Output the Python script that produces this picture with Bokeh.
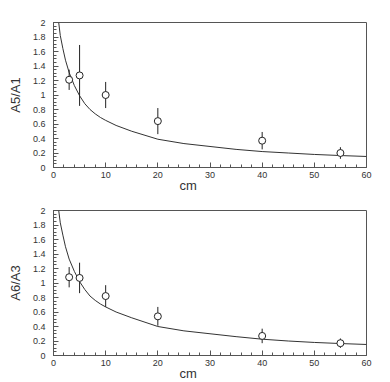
from bokeh.plotting import figure
from bokeh.models import Range1d, FixedTicker, Title, ColumnDataSource
from bokeh.layouts import column
from bokeh.embed import file_html
from bokeh.resources import INLINE

# ---- data ----
x_points = [3, 5, 10, 20, 40, 55]

a5a1 = [1.21, 1.27, 1.00, 0.64, 0.37, 0.20]
a5a1_err = [0.14, 0.42, 0.18, 0.18, 0.12, 0.08]

a6a3 = [1.08, 1.07, 0.82, 0.54, 0.27, 0.17]
a6a3_err = [0.14, 0.21, 0.15, 0.13, 0.10, 0.065]

fit_x = [1.0, 1.3, 1.8, 2.3, 3, 4, 5, 6, 7, 8, 9, 10, 12, 15, 20, 25, 30, 35, 40, 45, 50, 55, 60]
fit_top = [2.0, 1.82, 1.64, 1.48, 1.31, 1.13, 0.99, 0.88, 0.80, 0.74, 0.69, 0.65, 0.58, 0.50,
           0.39, 0.33, 0.29, 0.25, 0.22, 0.20, 0.18, 0.165, 0.152]
fit_bottom = [2.0, 1.83, 1.66, 1.50, 1.33, 1.16, 1.02, 0.91, 0.82, 0.76, 0.71, 0.67, 0.60, 0.52,
              0.40, 0.34, 0.30, 0.26, 0.225, 0.20, 0.18, 0.165, 0.152]

x_ticks = [0, 10, 20, 30, 40, 50, 60]
x_minor = [2, 4, 6, 8, 12, 14, 16, 18, 22, 24, 26, 28, 32, 34, 36, 38, 42, 44, 46, 48, 52, 54, 56, 58]
y_ticks = [0, 0.2, 0.4, 0.6, 0.8, 1, 1.2, 1.4, 1.6, 1.8, 2]
y_tick_labels = ["0", "0.2", "0.4", "0.6", "0.8", "1", "1.2", "1.4", "1.6", "1.8", "2"]
y_minor = [i * 0.05 for i in range(41)]

x_title = "cm"
y_titles = ["A5/A1", "A6/A3"]

FONT = "Liberation Sans"
INK = "#222222"
FRAME = "#555555"


def make_panel(yvals, yerr, fit_y, ytitle, height, top, bottom):
    p = figure(width=390, height=height, output_backend="svg", toolbar_location=None,
               x_range=Range1d(0, 60), y_range=Range1d(0, 2),
               min_border_left=53, min_border_right=24,
               min_border_top=top, min_border_bottom=bottom)
    p.background_fill_color = "white"
    p.border_fill_color = "white"
    p.xgrid.visible = False
    p.ygrid.visible = False
    p.outline_line_color = FRAME
    p.outline_line_width = 1

    xa = p.xaxis[0]
    xa.ticker = FixedTicker(ticks=x_ticks, minor_ticks=x_minor)
    ya = p.yaxis[0]
    ya.ticker = FixedTicker(ticks=y_ticks, minor_ticks=y_minor)
    ya.major_label_overrides = {t: l for t, l in zip(y_ticks, y_tick_labels)}

    for ax in (xa, ya):
        ax.axis_line_color = FRAME
        ax.major_tick_line_color = FRAME
        ax.minor_tick_line_color = FRAME
        ax.major_tick_in = 5
        ax.major_tick_out = 0
        ax.minor_tick_in = 3
        ax.minor_tick_out = 0
        ax.major_label_text_font = FONT
        ax.major_label_text_font_size = "9px"
        ax.major_label_text_color = "#333333"
    xa.major_label_standoff = 4
    ya.major_label_standoff = 8

    ya.axis_label = ytitle
    ya.axis_label_text_font = FONT
    ya.axis_label_text_font_size = "13px"
    ya.axis_label_text_font_style = "normal"
    ya.axis_label_text_color = "#333333"
    ya.axis_label_standoff = 7

    p.line(fit_x, fit_y, line_color="#333333", line_width=1)

    lo = [v - e for v, e in zip(yvals, yerr)]
    hi = [v + e for v, e in zip(yvals, yerr)]
    src = ColumnDataSource(dict(x=x_points, y=yvals, lo=lo, hi=hi))
    p.segment(x0="x", y0="lo", x1="x", y1="hi", source=src, line_color=INK, line_width=1)
    p.scatter(x="x", y="y", source=src, marker="circle", size=7,
              fill_color="white", line_color=INK, line_width=1)

    xt = Title(text=x_title, align="left", offset=126, standoff=-10,
               text_font=FONT, text_font_size="13px", text_font_style="normal",
               text_color="#333333")
    p.add_layout(xt, "below")
    return p


p1 = make_panel(a5a1, a5a1_err, fit_top, y_titles[0], 192, 22, 25)
p2 = make_panel(a6a3, a6a3_err, fit_bottom, y_titles[1], 190, 18, 27)

layout = column(p1, p2, spacing=0)
open("out.html", "w").write(file_html(layout, INLINE))
